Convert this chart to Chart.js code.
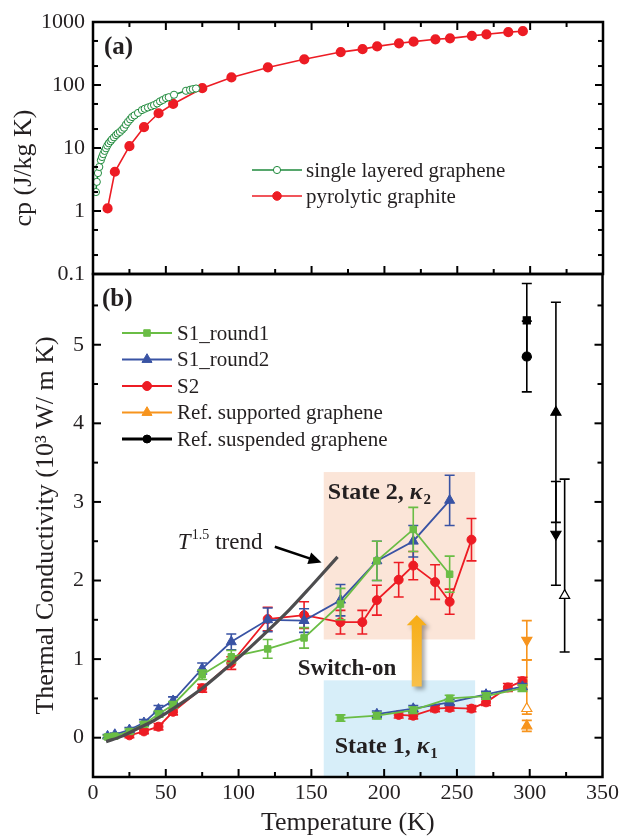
<!DOCTYPE html>
<html lang="en">
  <head>
    <meta charset="UTF-8" />
    <title>Specific heat and thermal conductivity</title>
    <script src="https://cdn.jsdelivr.net/npm/chart.js"></script>
    <style>
      body { margin: 0; background: #fff; }
      .stack { position: relative; width: 622px; height: 839px; }
      .stack canvas { position: absolute; left: 0; top: 0; }
    </style>
  </head>
  <body>
    <div class="stack">
      <canvas id="cpChart" width="622" height="839"></canvas>
      <canvas id="kChart" width="622" height="839"></canvas>
    </div>
    <script>
      // ---- (a) specific heat, J/kg K
      const grapheneT = [2, 2.6, 3.4, 4.3, 5.4, 6.2, 7, 8, 8.9, 9.8, 10.8, 12, 13, 14.4, 15.8, 17, 18.5, 20, 21.3, 22.6, 24, 25.5, 26.8, 28.5, 30.9, 33.6, 35.5, 37.7, 40, 41.9, 44, 46, 48, 50.1, 52, 55.6, 63.8, 66.6, 68.5, 70.7];
      const grapheneCp = [2.0, 2.9, 4.0, 5.0, 6.4, 7.2, 8.0, 9.0, 9.9, 10.9, 11.9, 12.8, 13.7, 14.8, 16, 17, 18, 19.5, 21, 23.5, 26, 28.5, 31, 33, 36, 40, 42, 44, 46, 48, 51, 55, 58, 62, 64, 70, 81, 84, 86, 88];
      const graphiteT = [10, 15, 25, 35, 45, 55, 75, 95, 120, 145, 170, 185, 195, 210, 220, 235, 245, 260, 270, 285, 295];
      const graphiteCp = [1.1, 4.2, 10.7, 21.4, 35.6, 50, 89, 132, 190, 256, 333, 371, 410, 459, 488, 531, 550, 603, 638, 690, 714];
      const cpTicks = [0.1, 1, 10, 100, 1000];

      // ---- (b) thermal conductivity, 10^3 W/m K
      const tempTicks = [0, 50, 100, 150, 200, 250, 300, 350];
      const kTicks = [0, 1, 2, 3, 4, 5];

      const s1r1T = [10, 15, 25, 35, 45, 55, 75, 95, 120, 145, 170, 195, 220, 245];
      const s1r1K = [0.01, 0.02, 0.08, 0.17, 0.30, 0.42, 0.80, 1.03, 1.13, 1.27, 1.70, 2.25, 2.65, 2.08];
      const s1r1Err = [0.02, 0.02, 0.03, 0.03, 0.04, 0.04, 0.06, 0.08, 0.12, 0.13, 0.20, 0.25, 0.28, 0.23];

      const s1r2T = [10, 15, 25, 35, 45, 55, 75, 95, 120, 145, 170, 195, 220, 245];
      const s1r2K = [0.02, 0.04, 0.10, 0.19, 0.36, 0.47, 0.88, 1.22, 1.50, 1.49, 1.75, 2.25, 2.50, 3.02];
      const s1r2Err = [0.02, 0.02, 0.03, 0.04, 0.05, 0.05, 0.07, 0.10, 0.15, 0.15, 0.20, 0.25, 0.20, 0.32];

      const s2T = [25, 35, 45, 55, 75, 95, 120, 145, 170, 185, 195, 210, 220, 235, 245, 260];
      const s2K = [0.03, 0.08, 0.14, 0.33, 0.63, 0.95, 1.51, 1.56, 1.47, 1.47, 1.75, 2.01, 2.19, 1.98, 1.73, 2.52];
      const s2Err = [0.03, 0.03, 0.04, 0.04, 0.05, 0.08, 0.15, 0.17, 0.15, 0.15, 0.19, 0.22, 0.18, 0.22, 0.16, 0.27];

      // state 1 (switched off) branches
      const s1r1LowT = [170, 195, 220, 245, 270, 295];
      const s1r1LowK = [0.25, 0.28, 0.35, 0.50, 0.53, 0.63];
      const s1r2LowT = [195, 220, 245, 270, 295];
      const s1r2LowK = [0.30, 0.37, 0.45, 0.55, 0.65];
      const s2LowT = [210, 220, 235, 245, 260, 270, 285, 295];
      const s2LowK = [0.29, 0.28, 0.37, 0.38, 0.37, 0.45, 0.64, 0.72];
      const lowErr = [0.04, 0.04, 0.04, 0.04, 0.04, 0.04, 0.05, 0.05];

      // reference values
      const supportedT = [298, 298, 298];
      const supportedK = [1.24, 0.37, 0.15];
      const supportedErrUp = [0.25, 0.62, 0.07];
      const supportedErrDown = [0.25, 0.07, 0.07];
      const suspendedT = [298, 298, 318, 318, 324];
      const suspendedK = [5.31, 4.85, 4.14, 2.59, 1.81];
      const suspendedErrUp = [0.47, 0.45, 1.40, 0.67, 1.48];
      const suspendedErrDown = [0.47, 0.45, 1.40, 0.65, 0.72];

      // T^1.5 trend line
      const trendT = [9, 20, 30, 40, 50, 60, 75, 90, 105, 120, 135, 150, 168];
      const trendK = [-0.05, 0.02, 0.11, 0.2, 0.31, 0.43, 0.63, 0.86, 1.1, 1.36, 1.63, 1.93, 2.3];

      const SERIF = "'Liberation Serif', 'Times New Roman', serif";
      const GREEN = "#6abd45";
      const BLUE = "#3953a4";
      const RED = "#ed1c24";
      const ORANGE = "#f7941d";
      const DARKGREEN = "#1f8a3c";

      const pts = (xs, ys) => xs.map((x, i) => ({ x: x, y: ys[i] }));

      function marker(ctx, style, x, y, r, fill, stroke) {
        ctx.save();
        ctx.beginPath();
        if (style === "circle") {
          ctx.arc(x, y, r, 0, Math.PI * 2);
        } else if (style === "rect") {
          const s = r * Math.SQRT1_2;
          ctx.rect(x - s, y - s, 2 * s, 2 * s);
        } else {
          ctx.moveTo(x, y - r);
          ctx.lineTo(x + r * 0.866, y + r * 0.5);
          ctx.lineTo(x - r * 0.866, y + r * 0.5);
          ctx.closePath();
        }
        ctx.fillStyle = fill;
        ctx.fill();
        ctx.lineWidth = 1;
        ctx.strokeStyle = stroke;
        ctx.stroke();
        ctx.restore();
      }

      function drawLegend(ctx, rows, x0, x1, textX, y0, step) {
        ctx.save();
        ctx.font = "21px " + SERIF;
        ctx.textBaseline = "middle";
        ctx.textAlign = "left";
        rows.forEach((row, i) => {
          const y = y0 + i * step;
          ctx.strokeStyle = row.color;
          ctx.lineWidth = row.width || 2;
          ctx.beginPath();
          ctx.moveTo(x0, y);
          ctx.lineTo(x1, y);
          ctx.stroke();
          marker(ctx, row.style, (x0 + x1) / 2, y, row.r, row.fill || row.color, row.color);
          ctx.fillStyle = "#231f20";
          ctx.fillText(row.label, textX, y + 1);
        });
        ctx.restore();
      }

      // inward tick marks and the thick frame
      function framePlugin(t) {
        return {
          id: "frame",
          afterDraw(chart) {
            const ctx = chart.ctx;
            const a = chart.chartArea;
            const x = chart.scales.x;
            const y = chart.scales.y;
            const line = (x1, y1, x2, y2) => {
              ctx.beginPath();
              ctx.moveTo(x1, y1);
              ctx.lineTo(x2, y2);
              ctx.stroke();
            };
            ctx.save();
            ctx.strokeStyle = "#000";
            ctx.lineWidth = 2;
            const xt = (vals, len) =>
              vals.forEach((v) => {
                const p = x.getPixelForValue(v);
                if (t.xBottom) line(p, a.bottom, p, a.bottom - len);
                if (t.xTop) line(p, a.top, p, a.top + len);
              });
            const yt = (vals, len) =>
              vals.forEach((v) => {
                const p = y.getPixelForValue(v);
                line(a.left, p, a.left + len, p);
                line(a.right, p, a.right - len, p);
              });
            xt(t.xMajor, 8);
            xt(t.xMinor, 5);
            yt(t.yMajor, 8);
            yt(t.yMinor, 5);
            ctx.lineWidth = 2.5;
            ctx.strokeRect(a.left, a.top, a.right - a.left, a.bottom - a.top);
            ctx.restore();
          },
        };
      }

      const errorBars = {
        id: "errorBars",
        beforeDatasetDraw(chart, args) {
          const ds = chart.data.datasets[args.index];
          if (!ds.errUp) return;
          const ctx = chart.ctx;
          const x = chart.scales.x;
          const y = chart.scales.y;
          const down = ds.errDown || ds.errUp;
          ctx.save();
          ctx.strokeStyle = ds.errColor || ds.borderColor;
          ctx.lineWidth = 1.6;
          ds.data.forEach((p, i) => {
            const px = x.getPixelForValue(p.x);
            const top = y.getPixelForValue(p.y + ds.errUp[i]);
            const bot = y.getPixelForValue(p.y - down[i]);
            ctx.beginPath();
            ctx.moveTo(px, top);
            ctx.lineTo(px, bot);
            ctx.moveTo(px - 5, top);
            ctx.lineTo(px + 5, top);
            ctx.moveTo(px - 5, bot);
            ctx.lineTo(px + 5, bot);
            ctx.stroke();
          });
          ctx.restore();
        },
      };

      // ---------------- panel (a)
      const cpExtras = {
        id: "cpExtras",
        afterDraw(chart) {
          const ctx = chart.ctx;
          ctx.save();
          ctx.fillStyle = "#231f20";
          ctx.font = "bold 25px " + SERIF;
          ctx.textBaseline = "middle";
          ctx.fillText("(a)", 104, 48);
          ctx.translate(24, 168);
          ctx.rotate(-Math.PI / 2);
          ctx.textAlign = "center";
          ctx.font = "26px " + SERIF;
          ctx.fillText("cp (J/kg K)", 0, 0);
          ctx.restore();
          drawLegend(
            ctx,
            [
              { label: "single layered graphene", color: DARKGREEN, style: "circle", r: 3.6, fill: "#fff", width: 1.6 },
              { label: "pyrolytic graphite", color: RED, style: "circle", r: 4.3, width: 1.6 },
            ],
            252, 302, 306, 170, 26
          );
        },
      };

      new Chart(document.getElementById("cpChart"), {
        type: "scatter",
        data: {
          datasets: [
            {
              label: "single layered graphene",
              data: pts(grapheneT, grapheneCp),
              showLine: true,
              borderColor: DARKGREEN,
              borderWidth: 1.5,
              pointRadius: 3.6,
              pointBorderWidth: 1,
              pointBackgroundColor: "#fff",
              pointBorderColor: DARKGREEN,
            },
            {
              label: "pyrolytic graphite",
              data: pts(graphiteT, graphiteCp),
              showLine: true,
              borderColor: RED,
              borderWidth: 1.6,
              pointRadius: 4.3,
              pointBackgroundColor: RED,
              pointBorderColor: RED,
            },
          ],
        },
        options: {
          responsive: false,
          animation: false,
          layout: { padding: { top: 22, right: 19, bottom: 565, left: 0 } },
          plugins: { legend: { display: false }, tooltip: { enabled: false } },
          scales: {
            x: { type: "linear", min: 0, max: 350, display: false },
            y: {
              type: "logarithmic",
              min: 0.1,
              max: 1000,
              grid: { display: false, drawTicks: false },
              border: { display: false },
              afterBuildTicks: (s) => { s.ticks = cpTicks.map((v) => ({ value: v })); },
              afterFit: (s) => { s.width = 93; },
              ticks: {
                padding: 8,
                color: "#231f20",
                font: { family: SERIF, size: 22 },
                callback: (v) => String(v),
              },
            },
          },
        },
        plugins: [
          cpExtras,
          framePlugin({
            xTop: true, xBottom: true,
            xMajor: [50, 100, 150, 200, 250, 300],
            xMinor: [25, 75, 125, 175, 225, 275, 325],
            yMajor: [1, 10, 100],
            yMinor: [0.2, 0.5, 2, 5, 20, 50, 200, 500],
          }),
        ],
      });

      // ---------------- panel (b)
      const state2Box = { t0: 158.5, t1: 262.5, k0: 1.25, k1: 3.38 };
      const state1Box = { t0: 158.5, t1: 262.5, k0: -0.5, k1: 0.73 };

      function stateLabel(ctx, px, py, num) {
        ctx.fillStyle = "#231f20";
        ctx.textBaseline = "alphabetic";
        ctx.textAlign = "left";
        ctx.font = "bold 24px " + SERIF;
        const head = "State " + num + ", ";
        ctx.fillText(head, px, py);
        let cx = px + ctx.measureText(head).width;
        ctx.font = "italic bold 24px " + SERIF;
        ctx.fillText("κ", cx, py);
        cx += ctx.measureText("κ").width;
        ctx.font = "bold 15px " + SERIF;
        ctx.fillText(String(num), cx + 1, py + 5);
      }

      const kBackground = {
        id: "kBackground",
        beforeDatasetsDraw(chart) {
          const ctx = chart.ctx;
          const x = chart.scales.x;
          const y = chart.scales.y;
          const box = (b, color) => {
            const l = x.getPixelForValue(b.t0);
            const r = x.getPixelForValue(b.t1);
            const t = y.getPixelForValue(b.k1);
            const btm = y.getPixelForValue(b.k0);
            ctx.fillStyle = color;
            ctx.fillRect(l, t, r - l, btm - t);
          };
          ctx.save();
          box(state2Box, "#fbe5d8");
          box(state1Box, "#d7eef9");
          stateLabel(ctx, x.getPixelForValue(161.3), y.getPixelForValue(3.04), 2);
          stateLabel(ctx, x.getPixelForValue(166), y.getPixelForValue(-0.2), 1);

          // switch-on arrow
          const ax = x.getPixelForValue(222.4);
          const tip = y.getPixelForValue(1.56);
          const base = y.getPixelForValue(1.43);
          const foot = y.getPixelForValue(0.65);
          ctx.shadowColor = "rgba(0,0,0,0.35)";
          ctx.shadowBlur = 4;
          ctx.shadowOffsetX = 3;
          ctx.shadowOffsetY = 3;
          const grad = ctx.createLinearGradient(0, foot, 0, tip);
          grad.addColorStop(0, "#f8c04a");
          grad.addColorStop(1, "#f7ad16");
          ctx.fillStyle = grad;
          ctx.beginPath();
          ctx.moveTo(ax - 5, foot);
          ctx.lineTo(ax + 5, foot);
          ctx.lineTo(ax + 5, base);
          ctx.lineTo(ax + 10, base);
          ctx.lineTo(ax, tip);
          ctx.lineTo(ax - 10, base);
          ctx.lineTo(ax - 5, base);
          ctx.closePath();
          ctx.fill();
          ctx.restore();

          ctx.save();
          ctx.fillStyle = "#231f20";
          ctx.font = "bold 23px " + SERIF;
          ctx.textBaseline = "alphabetic";
          ctx.fillText("Switch-on", x.getPixelForValue(140.7), y.getPixelForValue(0.8));
          ctx.restore();
        },
      };

      const kExtras = {
        id: "kExtras",
        afterDraw(chart) {
          const ctx = chart.ctx;
          const x = chart.scales.x;
          const y = chart.scales.y;
          ctx.save();
          ctx.fillStyle = "#231f20";
          ctx.font = "bold 25px " + SERIF;
          ctx.textBaseline = "middle";
          ctx.fillText("(b)", 102, 300);

          // T^1.5 trend label and arrow
          const lx = x.getPixelForValue(58.3);
          const ly = y.getPixelForValue(2.4);
          ctx.textBaseline = "alphabetic";
          ctx.font = "italic 23px " + SERIF;
          ctx.fillText("T", lx, ly);
          let cx = lx + ctx.measureText("T").width + 1;
          ctx.font = "14px " + SERIF;
          ctx.fillText("1.5", cx, ly - 10);
          cx += ctx.measureText("1.5").width + 6;
          ctx.font = "23px " + SERIF;
          ctx.fillText("trend", cx, ly);

          const x1 = x.getPixelForValue(124.9);
          const y1 = y.getPixelForValue(2.43);
          const x2 = x.getPixelForValue(157);
          const y2 = y.getPixelForValue(2.23);
          const ang = Math.atan2(y2 - y1, x2 - x1);
          ctx.strokeStyle = "#000";
          ctx.lineWidth = 2.5;
          ctx.beginPath();
          ctx.moveTo(x1, y1);
          ctx.lineTo(x2 - 8 * Math.cos(ang), y2 - 8 * Math.sin(ang));
          ctx.stroke();
          ctx.fillStyle = "#000";
          ctx.beginPath();
          ctx.moveTo(x2, y2);
          ctx.lineTo(x2 - 13 * Math.cos(ang) + 6 * Math.sin(ang), y2 - 13 * Math.sin(ang) - 6 * Math.cos(ang));
          ctx.lineTo(x2 - 13 * Math.cos(ang) - 6 * Math.sin(ang), y2 - 13 * Math.sin(ang) + 6 * Math.cos(ang));
          ctx.closePath();
          ctx.fill();
          ctx.restore();

          drawLegend(
            ctx,
            [
              { label: "S1_round1", color: GREEN, style: "rect", r: 4.6 },
              { label: "S1_round2", color: BLUE, style: "triangle", r: 5.8 },
              { label: "S2", color: RED, style: "circle", r: 4.5 },
              { label: "Ref. supported graphene", color: ORANGE, style: "triangle", r: 5.8 },
              { label: "Ref. suspended graphene", color: "#000", style: "circle", r: 4, width: 3 },
            ],
            122, 172, 177, 333, 26.5
          );
        },
      };

      const seriesStyle = (color, style, r) => ({
        showLine: true,
        borderColor: color,
        borderWidth: 1.8,
        pointStyle: style,
        pointRadius: r,
        pointBackgroundColor: color,
        pointBorderColor: color,
        pointBorderWidth: 1,
      });

      new Chart(document.getElementById("kChart"), {
        type: "scatter",
        data: {
          datasets: [
            {
              label: "T^1.5 trend",
              data: pts(trendT, trendK),
              showLine: true,
              borderColor: "#4d4d4f",
              borderWidth: 3.2,
              pointRadius: 0,
              cubicInterpolationMode: "monotone",
            },
            Object.assign({ label: "S1_round1", data: pts(s1r1T, s1r1K), errUp: s1r1Err }, seriesStyle(GREEN, "rect", 4.6)),
            Object.assign({ label: "S1_round2", data: pts(s1r2T, s1r2K), errUp: s1r2Err }, seriesStyle(BLUE, "triangle", 5.8)),
            Object.assign({ label: "S2", data: pts(s2T, s2K), errUp: s2Err }, seriesStyle(RED, "circle", 4.5)),
            Object.assign({ label: "S1_round1 state 1", data: pts(s1r1LowT, s1r1LowK), errUp: lowErr }, seriesStyle(GREEN, "rect", 4.6)),
            Object.assign({ label: "S1_round2 state 1", data: pts(s1r2LowT, s1r2LowK), errUp: lowErr }, seriesStyle(BLUE, "triangle", 5.8)),
            Object.assign({ label: "S2 state 1", data: pts(s2LowT, s2LowK), errUp: lowErr }, seriesStyle(RED, "circle", 4.5)),
            {
              label: "Ref. supported graphene",
              data: pts(supportedT, supportedK),
              errUp: supportedErrUp,
              errDown: supportedErrDown,
              borderColor: ORANGE,
              pointStyle: "triangle",
              pointRotation: [180, 0, 0],
              pointRadius: 5.8,
              pointBackgroundColor: [ORANGE, "#fff", ORANGE],
              pointBorderColor: ORANGE,
              pointBorderWidth: 1.2,
            },
            {
              label: "Ref. suspended graphene",
              data: pts(suspendedT, suspendedK),
              errUp: suspendedErrUp,
              errDown: suspendedErrDown,
              borderColor: "#000",
              pointStyle: ["rect", "circle", "triangle", "triangle", "triangle"],
              pointRotation: [0, 0, 0, 180, 0],
              pointRadius: [5, 4.5, 5.8, 5.8, 5.8],
              pointBackgroundColor: ["#000", "#000", "#000", "#000", "#fff"],
              pointBorderColor: "#000",
              pointBorderWidth: 1.2,
            },
          ],
        },
        options: {
          responsive: false,
          animation: false,
          layout: { padding: { top: 274, right: 19, bottom: 0, left: 0 } },
          plugins: { legend: { display: false }, tooltip: { enabled: false } },
          scales: {
            x: {
              type: "linear",
              min: 0,
              max: 350,
              grid: { display: false, drawTicks: false },
              border: { display: false },
              afterBuildTicks: (s) => { s.ticks = tempTicks.map((v) => ({ value: v })); },
              afterFit: (s) => { s.height = 62; },
              ticks: { padding: 3, maxRotation: 0, color: "#231f20", font: { family: SERIF, size: 22 } },
              title: {
                display: true,
                text: "Temperature (K)",
                color: "#231f20",
                font: { family: SERIF, size: 26 },
                padding: { top: 0, bottom: 0 },
              },
            },
            y: {
              type: "linear",
              min: -0.5,
              max: 5.9,
              grid: { display: false, drawTicks: false },
              border: { display: false },
              afterBuildTicks: (s) => { s.ticks = kTicks.map((v) => ({ value: v })); },
              afterFit: (s) => { s.width = 93; },
              ticks: { padding: 9, color: "#231f20", font: { family: SERIF, size: 22 } },
              title: {
                display: true,
                text: "Thermal Conductivity (10³ W/ m K)",
                color: "#231f20",
                font: { family: SERIF, size: 26 },
                padding: { top: 31, bottom: 0 },
              },
            },
          },
        },
        plugins: [
          errorBars,
          kBackground,
          kExtras,
          framePlugin({
            xTop: false, xBottom: true,
            xMajor: [50, 100, 150, 200, 250, 300],
            xMinor: [25, 75, 125, 175, 225, 275, 325],
            yMajor: [0, 1, 2, 3, 4, 5],
            yMinor: [0.5, 1.5, 2.5, 3.5, 4.5, 5.5],
          }),
        ],
      });
    </script>
  </body>
</html>
